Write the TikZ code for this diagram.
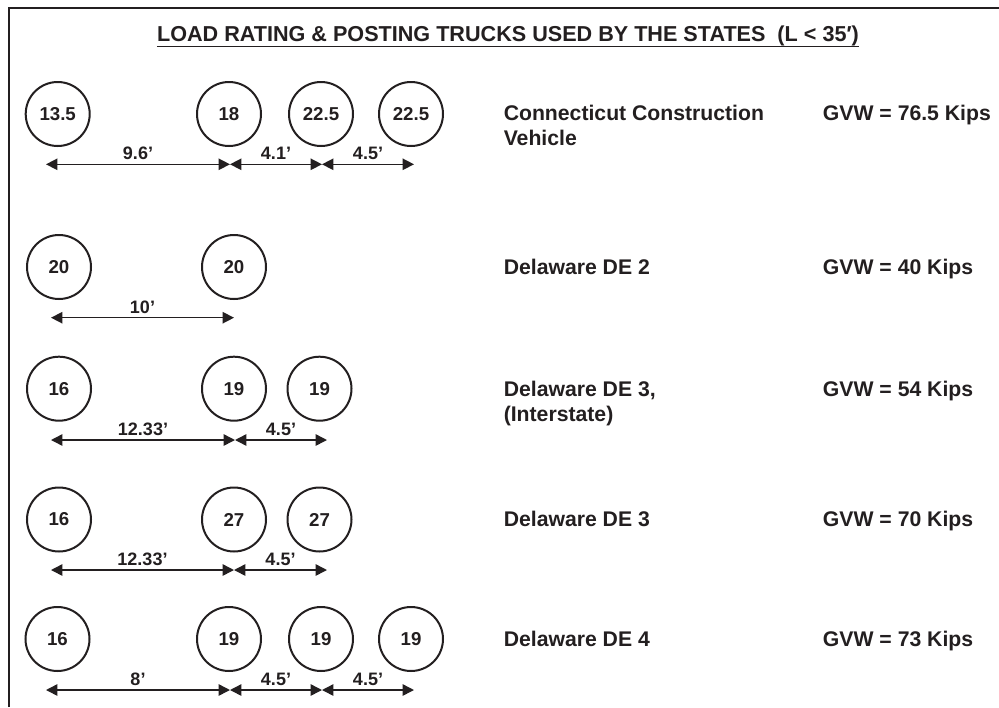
\documentclass[tikz,border=0pt]{standalone}
\usepackage{fontspec}
\setmainfont{Liberation Sans}
\usetikzlibrary{arrows.meta,calc}
\definecolor{ink}{RGB}{35,31,32}
\begin{document}
\begin{tikzpicture}[x=0.75pt,y=-0.75pt,
  axle/.style={circle,draw=ink,line width=1.5pt,minimum size=48pt,inner sep=0pt,
    font=\fontsize{14}{16}\selectfont\bfseries,text=ink},
  dim/.style={draw=ink,line width=1.1pt,
    {Triangle[length=8.5pt,width=8.5pt]}-{Triangle[length=8.5pt,width=8.5pt]}},
  dimlabel/.style={midway,anchor=base,yshift=3.3pt,inner sep=0pt,
    font=\fontsize{13.5}{15}\selectfont\bfseries,text=ink},
  vname/.style={anchor=base west,inner sep=0pt,align=left,
    font=\fontsize{15.9}{18.75}\selectfont\bfseries,text=ink},
  gvw/.style={anchor=base west,inner sep=0pt,
    font=\fontsize{15.9}{18.75}\selectfont\bfseries,text=ink},
]
\useasboundingbox (0,0) rectangle (999,707);
\fill[white] (0,0) rectangle (999,707);

% frame (top and left edges)
\draw[ink,line width=1.5pt] (8.5,707) -- (8.5,7.5) -- (999,7.5);

% title with underline
\node[anchor=base,inner sep=0pt,font=\fontsize{16.2}{19}\selectfont\bfseries,text=ink]
  (title) at (508,41) {LOAD RATING \& POSTING TRUCKS USED BY THE STATES\ \ (L < 35′)};
\draw[ink,line width=1.1pt] ($(title.base west)+(0,5.7)$) -- ($(title.base east)+(0,5.7)$);

% ---- Connecticut Construction Vehicle ----
\node[axle] (c1) at (57.7,114) {13.5};
\node[axle] (c2) at (229,114) {18};
\node[axle] (c3) at (321,114) {22.5};
\node[axle] (c4) at (411,114) {22.5};
\coordinate (cd1) at (46,164.3);
\coordinate (cd2) at (230,164.3);
\coordinate (cd3) at (322,164.3);
\coordinate (cd4) at (414,164.3);
\draw[dim] (cd1) -- node[dimlabel]{9.6'} (cd2);
\draw[dim] (cd2) -- node[dimlabel]{4.1'} (cd3);
\draw[dim] (cd3) -- node[dimlabel]{4.5'} (cd4);
% two-line names sit on the baseline of their last line
\node[vname] (cname) at (503.5,145.5) {Connecticut Construction\\Vehicle};
\node[gvw] (cgvw) at (822.7,120) {GVW = 76.5 Kips};

% ---- Delaware DE 2 ----
\node[axle] (p1) at (59,267) {20};
\node[axle] (p2) at (234,267) {20};
\coordinate (pd1) at (51,317.7);
\coordinate (pd2) at (234,317.7);
\draw[dim] (pd1) -- node[dimlabel]{10'} (pd2);
\node[vname] (pname) at (503.5,274.3) {Delaware DE 2};
\node[gvw] (pgvw) at (822.7,274.3) {GVW = 40 Kips};

% ---- Delaware DE 3, (Interstate) ----
\node[axle] (q1) at (59,388.7) {16};
\node[axle] (q2) at (234,388.7) {19};
\node[axle] (q3) at (319.5,388.7) {19};
\coordinate (qd1) at (51,440);
\coordinate (qd2) at (235,440);
\coordinate (qd3) at (327,440);
\draw[dim] (qd1) -- node[dimlabel]{12.33'} (qd2);
\draw[dim] (qd2) -- node[dimlabel]{4.5'} (qd3);
\node[vname] (qname) at (503.5,421.7) {Delaware DE 3,\\(Interstate)};
\node[gvw] (qgvw) at (822.7,396.7) {GVW = 54 Kips};

% ---- Delaware DE 3 ----
\node[axle] (r1) at (59,519.5) {16};
\node[axle] (r2) at (234,519.5) {27};
\node[axle] (r3) at (319.5,519.5) {27};
\coordinate (rd1) at (51,570);
\coordinate (rd2) at (234,570);
\coordinate (rd3) at (327,570);
\draw[dim] (rd1) -- node[dimlabel]{12.33'} (rd2);
\draw[dim] (rd2) -- node[dimlabel]{4.5'} (rd3);
\node[vname] (rname) at (503.5,526) {Delaware DE 3};
\node[gvw] (rgvw) at (822.7,526) {GVW = 70 Kips};

% ---- Delaware DE 4 ----
\node[axle] (s1) at (57.5,639) {16};
\node[axle] (s2) at (229,639) {19};
\node[axle] (s3) at (321,639) {19};
\node[axle] (s4) at (411,639) {19};
\coordinate (sd1) at (46,690);
\coordinate (sd2) at (230,690);
\coordinate (sd3) at (322,690);
\coordinate (sd4) at (414,690);
\draw[dim] (sd1) -- node[dimlabel]{8'} (sd2);
\draw[dim] (sd2) -- node[dimlabel]{4.5'} (sd3);
\draw[dim] (sd3) -- node[dimlabel]{4.5'} (sd4);
\node[vname] (sname) at (503.5,646.7) {Delaware DE 4};
\node[gvw] (sgvw) at (822.7,646.7) {GVW = 73 Kips};
\end{tikzpicture}
\end{document}
